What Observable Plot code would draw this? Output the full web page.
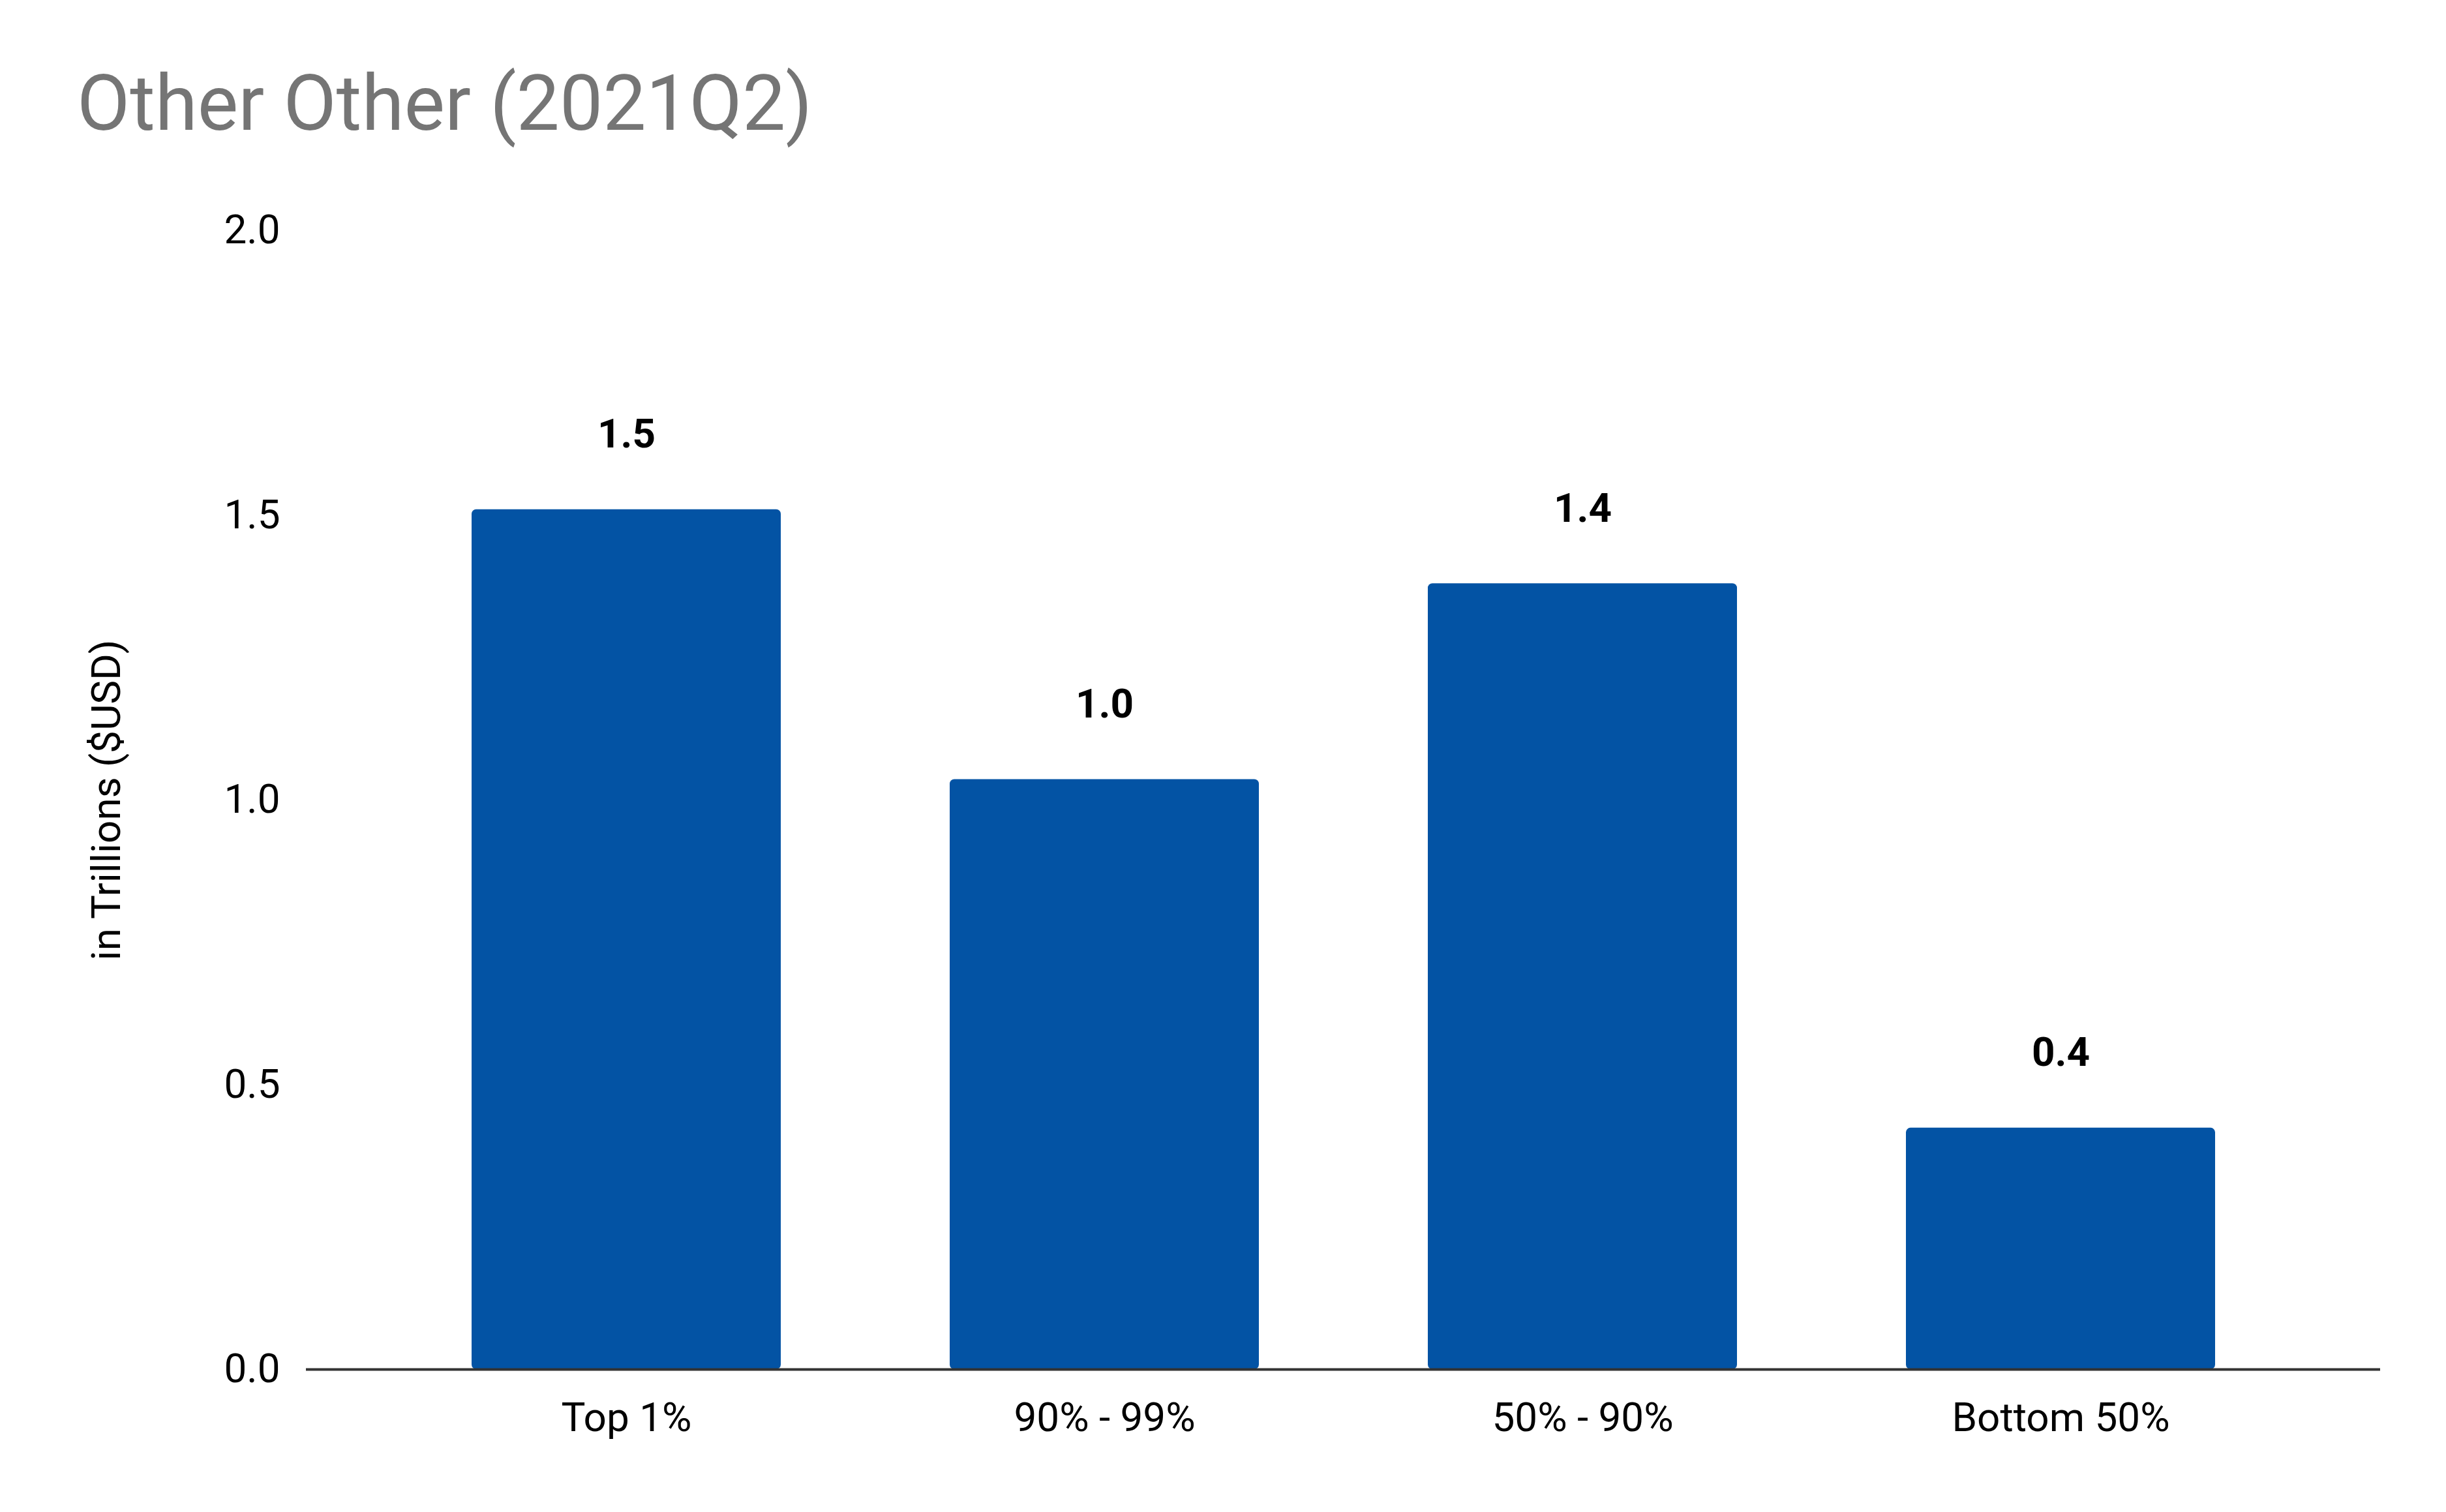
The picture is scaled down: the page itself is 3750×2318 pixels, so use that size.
<!DOCTYPE html>
<html><head>
<script src="https://cdn.jsdelivr.net/npm/d3@7"></script>
<script src="https://cdn.jsdelivr.net/npm/@observablehq/plot@0.6"></script>
<style>
body{margin:0;background:#fff;font-family:Roboto,"Liberation Sans",Arial,sans-serif;}
#title{height:290px;box-sizing:border-box;padding-left:118px;padding-top:100px;font-size:118px;color:#757575;line-height:1;}
</style></head><body>
<div id="title">Other Other (2021Q2)</div>
<div id="chart"></div>
<script>
const categories = ["Top 1%", "90% - 99%", "50% - 90%", "Bottom 50%"];
const values = [1.51, 1.036, 1.38, 0.424];
const labels = ["1.5", "1.0", "1.4", "0.4"];
const yTicks = [0, 0.5, 1.0, 1.5, 2.0];
const data = categories.map((c, i) => ({c, v: values[i], l: labels[i]}));
const chart = Plot.plot({
  width: 3750, height: 2000,
  marginTop: 63, marginBottom: 191, marginLeft: 469, marginRight: 101,
  style: {fontSize: "62px", fontFamily: "Roboto, 'Liberation Sans', Arial, sans-serif", color: "#000"},
  x: {domain: categories, paddingInner: 0.354, paddingOuter: 0.346, label: null, tickSize: 0, tickPadding: 50},
  y: {domain: [0, 2], ticks: yTicks, tickFormat: d3.format(".1f"), tickSize: 0, tickPadding: 40,
      label: "in Trillions ($USD)", labelAnchor: "center", labelArrow: "none", labelOffset: 330},
  marks: [
    Plot.barY(data, {x: "c", y: "v", fill: "#0353a4", rx: 7}),
    Plot.ruleY([0], {stroke: "#333", strokeWidth: 4}),
    Plot.text(data, {x: "c", y: "v", text: "l", dy: -115, fontWeight: "bold", fontSize: 62, fill: "#000"})
  ]
});
document.getElementById("chart").appendChild(chart);
</script>
</body></html>
